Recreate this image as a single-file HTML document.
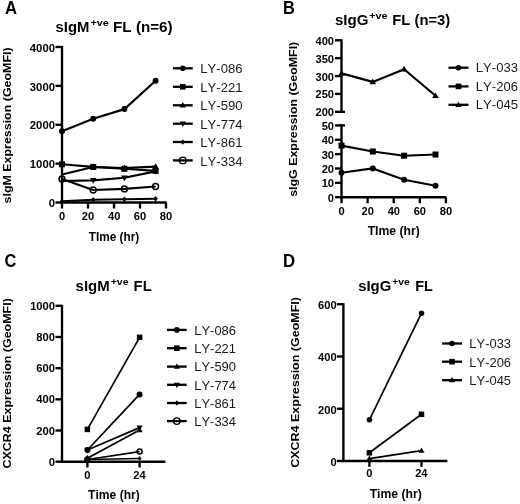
<!DOCTYPE html>
<html><head><meta charset="utf-8"><style>
html,body{margin:0;padding:0;background:#fff;}
svg{display:block;font-family:"Liberation Sans", sans-serif;font-kerning:none;filter:grayscale(1);}
</style></head><body>
<svg width="520" height="504" viewBox="0 0 520 504">
<rect width="520" height="504" fill="#fff"/>
<text transform="translate(5.08,13.50) scale(0.9539,1)" font-size="17.5" font-weight="bold" fill="#000">A</text>
<text transform="translate(55.58,32.10) scale(1.0031,1)" font-size="14.8" font-weight="bold" fill="#000">sIgM</text>
<text transform="translate(90.45,26.20) scale(1.1674,1)" font-size="9.2" font-weight="bold" fill="#000">+ve</text>
<text transform="translate(113.08,32.10) scale(1.0278,1)" font-size="14.8" font-weight="bold" fill="#000">FL (n=6)</text>
<line x1="62.00" y1="45.98" x2="62.00" y2="203.50" stroke="#000" stroke-width="2.35"/>
<line x1="61.00" y1="202.50" x2="166.50" y2="202.50" stroke="#000" stroke-width="2.35"/>
<line x1="55.50" y1="202.50" x2="62.00" y2="202.50" stroke="#000" stroke-width="2.35"/>
<text transform="translate(48.68,207.20) scale(1.0000,1)" font-size="11.3" font-weight="bold" fill="#000">0</text>
<line x1="55.50" y1="163.62" x2="62.00" y2="163.62" stroke="#000" stroke-width="2.35"/>
<text transform="translate(29.83,168.32) scale(1.0000,1)" font-size="11.3" font-weight="bold" fill="#000">1000</text>
<line x1="55.50" y1="124.74" x2="62.00" y2="124.74" stroke="#000" stroke-width="2.35"/>
<text transform="translate(29.83,129.44) scale(1.0000,1)" font-size="11.3" font-weight="bold" fill="#000">2000</text>
<line x1="55.50" y1="85.86" x2="62.00" y2="85.86" stroke="#000" stroke-width="2.35"/>
<text transform="translate(29.83,90.56) scale(1.0000,1)" font-size="11.3" font-weight="bold" fill="#000">3000</text>
<line x1="55.50" y1="46.98" x2="62.00" y2="46.98" stroke="#000" stroke-width="2.35"/>
<text transform="translate(29.83,51.68) scale(1.0000,1)" font-size="11.3" font-weight="bold" fill="#000">4000</text>
<line x1="62.00" y1="202.50" x2="62.00" y2="208.50" stroke="#000" stroke-width="2.35"/>
<text transform="translate(58.91,219.60) scale(1.0300,1)" font-size="10.8" font-weight="bold" fill="#000">0</text>
<line x1="88.00" y1="202.50" x2="88.00" y2="208.50" stroke="#000" stroke-width="2.35"/>
<text transform="translate(81.85,219.60) scale(1.0300,1)" font-size="10.8" font-weight="bold" fill="#000">20</text>
<line x1="114.00" y1="202.50" x2="114.00" y2="208.50" stroke="#000" stroke-width="2.35"/>
<text transform="translate(107.96,219.60) scale(1.0300,1)" font-size="10.8" font-weight="bold" fill="#000">40</text>
<line x1="140.00" y1="202.50" x2="140.00" y2="208.50" stroke="#000" stroke-width="2.35"/>
<text transform="translate(133.84,219.60) scale(1.0300,1)" font-size="10.8" font-weight="bold" fill="#000">60</text>
<line x1="166.00" y1="202.50" x2="166.00" y2="208.50" stroke="#000" stroke-width="2.35"/>
<text transform="translate(159.86,219.60) scale(1.0300,1)" font-size="10.8" font-weight="bold" fill="#000">80</text>
<text transform="translate(88.67,240.60) scale(0.9861,1)" font-size="12" font-weight="bold" fill="#000">TIme (hr)</text>
<text transform="translate(11.00,203.44) rotate(-90) scale(1.0720,1)" font-size="11.6" font-weight="bold">sIgM Expression (GeoMFI)</text>
<polyline fill="none" stroke="#000" stroke-width="2.15" stroke-linejoin="round" points="62.00,131.30 93.20,118.70 124.40,109.10 155.60,80.70"/>
<circle cx="62.00" cy="131.30" r="3.0" fill="#000"/>
<circle cx="93.20" cy="118.70" r="3.0" fill="#000"/>
<circle cx="124.40" cy="109.10" r="3.0" fill="#000"/>
<circle cx="155.60" cy="80.70" r="3.0" fill="#000"/>
<polyline fill="none" stroke="#000" stroke-width="2.15" stroke-linejoin="round" points="62.00,174.50 93.20,167.00 124.40,168.00 155.60,166.60"/>
<polygon points="93.20,163.58 96.50,169.28 89.90,169.28" fill="#000"/>
<polygon points="124.40,164.58 127.70,170.28 121.10,170.28" fill="#000"/>
<polygon points="155.60,163.18 158.90,168.88 152.30,168.88" fill="#000"/>
<polyline fill="none" stroke="#000" stroke-width="2.15" stroke-linejoin="round" points="62.00,164.25 93.20,166.90 124.40,168.80 155.60,170.90"/>
<rect x="59.00" y="161.25" width="6" height="6" fill="#000"/>
<rect x="90.20" y="163.90" width="6" height="6" fill="#000"/>
<rect x="121.40" y="165.80" width="6" height="6" fill="#000"/>
<rect x="152.60" y="167.90" width="6" height="6" fill="#000"/>
<polyline fill="none" stroke="#000" stroke-width="2.15" stroke-linejoin="round" points="62.00,181.00 93.20,180.40 124.40,177.75 155.60,171.40"/>
<polygon points="93.20,183.82 96.50,178.12 89.90,178.12" fill="#000"/>
<polygon points="124.40,181.17 127.70,175.47 121.10,175.47" fill="#000"/>
<polygon points="155.60,174.82 158.90,169.12 152.30,169.12" fill="#000"/>
<polyline fill="none" stroke="#000" stroke-width="2.15" stroke-linejoin="round" points="62.00,201.30 93.20,199.80 124.40,199.30 155.60,198.80"/>
<polygon points="62.00,198.40 64.17,201.30 62.00,204.20 59.83,201.30" fill="#000"/>
<polygon points="93.20,196.90 95.38,199.80 93.20,202.70 91.03,199.80" fill="#000"/>
<polygon points="124.40,196.40 126.58,199.30 124.40,202.20 122.23,199.30" fill="#000"/>
<polygon points="155.60,195.90 157.78,198.80 155.60,201.70 153.42,198.80" fill="#000"/>
<polyline fill="none" stroke="#000" stroke-width="2.15" stroke-linejoin="round" points="62.00,179.00 93.20,190.00 124.40,188.90 155.60,186.50"/>
<circle cx="62.00" cy="179.00" r="2.95" fill="none" stroke="#000" stroke-width="1.5"/>
<circle cx="93.20" cy="190.00" r="2.95" fill="none" stroke="#000" stroke-width="1.5"/>
<circle cx="124.40" cy="188.90" r="2.95" fill="none" stroke="#000" stroke-width="1.5"/>
<circle cx="155.60" cy="186.50" r="2.95" fill="none" stroke="#000" stroke-width="1.5"/>
<line x1="172.90" y1="68.30" x2="192.70" y2="68.30" stroke="#000" stroke-width="2.3"/>
<circle cx="182.80" cy="68.30" r="2.8" fill="#000"/>
<line x1="172.90" y1="86.80" x2="192.70" y2="86.80" stroke="#000" stroke-width="2.3"/>
<rect x="180.00" y="84.00" width="5.6" height="5.6" fill="#000"/>
<line x1="172.90" y1="105.30" x2="192.70" y2="105.30" stroke="#000" stroke-width="2.3"/>
<polygon points="182.80,102.11 185.90,107.43 179.70,107.43" fill="#000"/>
<line x1="172.90" y1="123.70" x2="192.70" y2="123.70" stroke="#000" stroke-width="2.3"/>
<polygon points="182.80,126.89 185.90,121.57 179.70,121.57" fill="#000"/>
<line x1="172.90" y1="142.00" x2="192.70" y2="142.00" stroke="#000" stroke-width="2.3"/>
<polygon points="182.80,139.20 184.90,142.00 182.80,144.80 180.70,142.00" fill="#000"/>
<line x1="172.90" y1="160.40" x2="192.70" y2="160.40" stroke="#000" stroke-width="2.3"/>
<circle cx="182.80" cy="160.40" r="3.25" fill="none" stroke="#000" stroke-width="1.4"/>
<text transform="translate(200.22,73.40) scale(1.0946,1)" font-size="12" font-weight="normal" fill="#1a1a1a">LY-086</text>
<text transform="translate(200.22,91.90) scale(1.0946,1)" font-size="12" font-weight="normal" fill="#1a1a1a">LY-221</text>
<text transform="translate(200.22,110.40) scale(1.0946,1)" font-size="12" font-weight="normal" fill="#1a1a1a">LY-590</text>
<text transform="translate(200.22,128.80) scale(1.0946,1)" font-size="12" font-weight="normal" fill="#1a1a1a">LY-774</text>
<text transform="translate(200.22,147.10) scale(1.0946,1)" font-size="12" font-weight="normal" fill="#1a1a1a">LY-861</text>
<text transform="translate(200.22,165.50) scale(1.0946,1)" font-size="12" font-weight="normal" fill="#1a1a1a">LY-334</text>
<text transform="translate(283.00,13.50) scale(0.9370,1)" font-size="17.5" font-weight="bold" fill="#000">B</text>
<text transform="translate(334.97,25.20) scale(1.0204,1)" font-size="14.8" font-weight="bold" fill="#000">sIgG</text>
<text transform="translate(369.24,19.30) scale(1.1808,1)" font-size="9.2" font-weight="bold" fill="#000">+ve</text>
<text transform="translate(392.21,25.20) scale(1.0029,1)" font-size="14.8" font-weight="bold" fill="#000">FL (n=3)</text>
<line x1="341.50" y1="39.30" x2="341.50" y2="112.80" stroke="#000" stroke-width="2.35"/>
<line x1="340.50" y1="111.80" x2="345.00" y2="111.80" stroke="#000" stroke-width="2.35"/>
<line x1="341.50" y1="124.40" x2="341.50" y2="198.20" stroke="#000" stroke-width="2.35"/>
<line x1="340.50" y1="125.40" x2="345.00" y2="125.40" stroke="#000" stroke-width="2.35"/>
<line x1="340.50" y1="197.20" x2="446.40" y2="197.20" stroke="#000" stroke-width="2.35"/>
<line x1="335.00" y1="111.80" x2="341.50" y2="111.80" stroke="#000" stroke-width="2.35"/>
<text transform="translate(315.50,116.30) scale(1.0300,1)" font-size="10.8" font-weight="bold" fill="#000">200</text>
<line x1="335.00" y1="93.92" x2="341.50" y2="93.92" stroke="#000" stroke-width="2.35"/>
<text transform="translate(315.50,98.42) scale(1.0300,1)" font-size="10.8" font-weight="bold" fill="#000">250</text>
<line x1="335.00" y1="76.05" x2="341.50" y2="76.05" stroke="#000" stroke-width="2.35"/>
<text transform="translate(315.50,80.55) scale(1.0300,1)" font-size="10.8" font-weight="bold" fill="#000">300</text>
<line x1="335.00" y1="58.17" x2="341.50" y2="58.17" stroke="#000" stroke-width="2.35"/>
<text transform="translate(315.50,62.67) scale(1.0300,1)" font-size="10.8" font-weight="bold" fill="#000">350</text>
<line x1="335.00" y1="40.30" x2="341.50" y2="40.30" stroke="#000" stroke-width="2.35"/>
<text transform="translate(315.50,44.80) scale(1.0300,1)" font-size="10.8" font-weight="bold" fill="#000">400</text>
<line x1="335.00" y1="197.20" x2="341.50" y2="197.20" stroke="#000" stroke-width="2.35"/>
<text transform="translate(327.87,201.70) scale(1.0300,1)" font-size="10.8" font-weight="bold" fill="#000">0</text>
<line x1="335.00" y1="182.84" x2="341.50" y2="182.84" stroke="#000" stroke-width="2.35"/>
<text transform="translate(321.68,187.34) scale(1.0300,1)" font-size="10.8" font-weight="bold" fill="#000">10</text>
<line x1="335.00" y1="168.48" x2="341.50" y2="168.48" stroke="#000" stroke-width="2.35"/>
<text transform="translate(321.68,172.98) scale(1.0300,1)" font-size="10.8" font-weight="bold" fill="#000">20</text>
<line x1="335.00" y1="154.12" x2="341.50" y2="154.12" stroke="#000" stroke-width="2.35"/>
<text transform="translate(321.68,158.62) scale(1.0300,1)" font-size="10.8" font-weight="bold" fill="#000">30</text>
<line x1="335.00" y1="139.76" x2="341.50" y2="139.76" stroke="#000" stroke-width="2.35"/>
<text transform="translate(321.68,144.26) scale(1.0300,1)" font-size="10.8" font-weight="bold" fill="#000">40</text>
<line x1="335.00" y1="125.40" x2="341.50" y2="125.40" stroke="#000" stroke-width="2.35"/>
<text transform="translate(321.68,129.90) scale(1.0300,1)" font-size="10.8" font-weight="bold" fill="#000">50</text>
<line x1="341.50" y1="197.20" x2="341.50" y2="203.20" stroke="#000" stroke-width="2.35"/>
<text transform="translate(338.41,214.50) scale(1.0300,1)" font-size="10.8" font-weight="bold" fill="#000">0</text>
<line x1="367.60" y1="197.20" x2="367.60" y2="203.20" stroke="#000" stroke-width="2.35"/>
<text transform="translate(361.45,214.50) scale(1.0300,1)" font-size="10.8" font-weight="bold" fill="#000">20</text>
<line x1="393.70" y1="197.20" x2="393.70" y2="203.20" stroke="#000" stroke-width="2.35"/>
<text transform="translate(387.66,214.50) scale(1.0300,1)" font-size="10.8" font-weight="bold" fill="#000">40</text>
<line x1="419.80" y1="197.20" x2="419.80" y2="203.20" stroke="#000" stroke-width="2.35"/>
<text transform="translate(413.64,214.50) scale(1.0300,1)" font-size="10.8" font-weight="bold" fill="#000">60</text>
<line x1="445.90" y1="197.20" x2="445.90" y2="203.20" stroke="#000" stroke-width="2.35"/>
<text transform="translate(439.76,214.50) scale(1.0300,1)" font-size="10.8" font-weight="bold" fill="#000">80</text>
<text transform="translate(367.66,234.50) scale(1.0178,1)" font-size="12" font-weight="bold" fill="#000">TIme (hr)</text>
<text transform="translate(296.60,196.84) rotate(-90) scale(1.0706,1)" font-size="11.6" font-weight="bold">sIgG Expression (GeoMFI)</text>
<polyline fill="none" stroke="#000" stroke-width="2.15" stroke-linejoin="round" points="341.50,73.40 372.80,81.90 404.10,69.20 435.50,95.80"/>
<polygon points="341.50,69.98 344.80,75.68 338.20,75.68" fill="#000"/>
<polygon points="372.80,78.48 376.10,84.18 369.50,84.18" fill="#000"/>
<polygon points="404.10,65.78 407.40,71.48 400.80,71.48" fill="#000"/>
<polygon points="435.50,92.38 438.80,98.08 432.20,98.08" fill="#000"/>
<polyline fill="none" stroke="#000" stroke-width="2.15" stroke-linejoin="round" points="341.50,145.60 372.80,151.50 404.10,155.70 435.50,154.50"/>
<rect x="338.50" y="142.60" width="6" height="6" fill="#000"/>
<rect x="369.80" y="148.50" width="6" height="6" fill="#000"/>
<rect x="401.10" y="152.70" width="6" height="6" fill="#000"/>
<rect x="432.50" y="151.50" width="6" height="6" fill="#000"/>
<polyline fill="none" stroke="#000" stroke-width="2.15" stroke-linejoin="round" points="341.50,172.70 372.80,168.40 404.10,179.80 435.50,185.80"/>
<circle cx="341.50" cy="172.70" r="3.0" fill="#000"/>
<circle cx="372.80" cy="168.40" r="3.0" fill="#000"/>
<circle cx="404.10" cy="179.80" r="3.0" fill="#000"/>
<circle cx="435.50" cy="185.80" r="3.0" fill="#000"/>
<line x1="448.50" y1="67.70" x2="468.50" y2="67.70" stroke="#000" stroke-width="2.3"/>
<circle cx="458.50" cy="67.70" r="2.8" fill="#000"/>
<line x1="448.50" y1="86.40" x2="468.50" y2="86.40" stroke="#000" stroke-width="2.3"/>
<rect x="455.70" y="83.60" width="5.6" height="5.6" fill="#000"/>
<line x1="448.50" y1="104.80" x2="468.50" y2="104.80" stroke="#000" stroke-width="2.3"/>
<polygon points="458.50,101.61 461.60,106.93 455.40,106.93" fill="#000"/>
<text transform="translate(475.83,71.90) scale(1.0892,1)" font-size="12" font-weight="normal" fill="#1a1a1a">LY-033</text>
<text transform="translate(475.83,90.60) scale(1.0892,1)" font-size="12" font-weight="normal" fill="#1a1a1a">LY-206</text>
<text transform="translate(475.83,109.00) scale(1.0892,1)" font-size="12" font-weight="normal" fill="#1a1a1a">LY-045</text>
<text transform="translate(4.53,266.60) scale(0.9352,1)" font-size="17.5" font-weight="bold" fill="#000">C</text>
<text transform="translate(75.57,291.20) scale(1.0124,1)" font-size="14.8" font-weight="bold" fill="#000">sIgM</text>
<text transform="translate(110.65,285.30) scale(1.1540,1)" font-size="9.2" font-weight="bold" fill="#000">+ve</text>
<text transform="translate(133.61,291.20) scale(1.0039,1)" font-size="14.8" font-weight="bold" fill="#000">FL</text>
<line x1="62.00" y1="304.80" x2="62.00" y2="462.70" stroke="#000" stroke-width="2.35"/>
<line x1="61.00" y1="461.70" x2="165.40" y2="461.70" stroke="#000" stroke-width="2.35"/>
<line x1="55.50" y1="461.70" x2="62.00" y2="461.70" stroke="#000" stroke-width="2.35"/>
<text transform="translate(48.83,465.70) scale(1.0000,1)" font-size="11.2" font-weight="bold" fill="#000">0</text>
<line x1="55.50" y1="430.52" x2="62.00" y2="430.52" stroke="#000" stroke-width="2.35"/>
<text transform="translate(36.37,434.52) scale(1.0000,1)" font-size="11.2" font-weight="bold" fill="#000">200</text>
<line x1="55.50" y1="399.34" x2="62.00" y2="399.34" stroke="#000" stroke-width="2.35"/>
<text transform="translate(36.37,403.34) scale(1.0000,1)" font-size="11.2" font-weight="bold" fill="#000">400</text>
<line x1="55.50" y1="368.16" x2="62.00" y2="368.16" stroke="#000" stroke-width="2.35"/>
<text transform="translate(36.37,372.16) scale(1.0000,1)" font-size="11.2" font-weight="bold" fill="#000">600</text>
<line x1="55.50" y1="336.98" x2="62.00" y2="336.98" stroke="#000" stroke-width="2.35"/>
<text transform="translate(36.37,340.98) scale(1.0000,1)" font-size="11.2" font-weight="bold" fill="#000">800</text>
<line x1="55.50" y1="305.80" x2="62.00" y2="305.80" stroke="#000" stroke-width="2.35"/>
<text transform="translate(30.14,309.80) scale(1.0000,1)" font-size="11.2" font-weight="bold" fill="#000">1000</text>
<line x1="87.40" y1="461.70" x2="87.40" y2="467.50" stroke="#000" stroke-width="2.35"/>
<text transform="translate(84.31,478.70) scale(1.0300,1)" font-size="10.8" font-weight="bold" fill="#000">0</text>
<line x1="139.60" y1="461.70" x2="139.60" y2="467.50" stroke="#000" stroke-width="2.35"/>
<text transform="translate(133.25,478.70) scale(1.0300,1)" font-size="10.8" font-weight="bold" fill="#000">24</text>
<text transform="translate(88.06,498.50) scale(1.0099,1)" font-size="12" font-weight="bold" fill="#000">Time (hr)</text>
<text transform="translate(11.20,468.51) rotate(-90) scale(1.0755,1)" font-size="11.6" font-weight="bold">CXCR4 Expression (GeoMFI)</text>
<polyline fill="none" stroke="#000" stroke-width="1.7" stroke-linejoin="round" points="87.40,459.50 139.60,458.50"/>
<polygon points="87.40,457.00 89.28,459.50 87.40,462.00 85.53,459.50" fill="#000"/>
<polygon points="139.60,456.00 141.47,458.50 139.60,461.00 137.72,458.50" fill="#000"/>
<polyline fill="none" stroke="#000" stroke-width="1.7" stroke-linejoin="round" points="87.40,459.50 139.60,451.60"/>
<circle cx="87.40" cy="459.50" r="2.50" fill="none" stroke="#000" stroke-width="1.5"/>
<circle cx="139.60" cy="451.60" r="2.50" fill="none" stroke="#000" stroke-width="1.5"/>
<polyline fill="none" stroke="#000" stroke-width="1.7" stroke-linejoin="round" points="87.40,458.30 139.60,430.00"/>
<polygon points="87.40,455.11 90.50,460.43 84.30,460.43" fill="#000"/>
<polygon points="139.60,426.81 142.70,432.13 136.50,432.13" fill="#000"/>
<polyline fill="none" stroke="#000" stroke-width="1.7" stroke-linejoin="round" points="87.40,450.00 139.60,427.60"/>
<polygon points="87.40,453.19 90.50,447.87 84.30,447.87" fill="#000"/>
<polygon points="139.60,430.79 142.70,425.47 136.50,425.47" fill="#000"/>
<polyline fill="none" stroke="#000" stroke-width="1.7" stroke-linejoin="round" points="87.40,450.00 139.60,394.40"/>
<circle cx="87.40" cy="450.00" r="3.0" fill="#000"/>
<circle cx="139.60" cy="394.40" r="3.0" fill="#000"/>
<polyline fill="none" stroke="#000" stroke-width="1.7" stroke-linejoin="round" points="87.40,429.40 139.60,337.30"/>
<rect x="84.65" y="426.65" width="5.5" height="5.5" fill="#000"/>
<rect x="136.85" y="334.55" width="5.5" height="5.5" fill="#000"/>
<line x1="167.00" y1="329.90" x2="186.70" y2="329.90" stroke="#000" stroke-width="2.3"/>
<circle cx="176.85" cy="329.90" r="2.8" fill="#000"/>
<line x1="167.00" y1="348.20" x2="186.70" y2="348.20" stroke="#000" stroke-width="2.3"/>
<rect x="174.05" y="345.40" width="5.6" height="5.6" fill="#000"/>
<line x1="167.00" y1="366.60" x2="186.70" y2="366.60" stroke="#000" stroke-width="2.3"/>
<polygon points="176.85,363.41 179.95,368.73 173.75,368.73" fill="#000"/>
<line x1="167.00" y1="384.80" x2="186.70" y2="384.80" stroke="#000" stroke-width="2.3"/>
<polygon points="176.85,387.99 179.95,382.67 173.75,382.67" fill="#000"/>
<line x1="167.00" y1="403.00" x2="186.70" y2="403.00" stroke="#000" stroke-width="2.3"/>
<polygon points="176.85,400.20 178.95,403.00 176.85,405.80 174.75,403.00" fill="#000"/>
<line x1="167.00" y1="421.10" x2="186.70" y2="421.10" stroke="#000" stroke-width="2.3"/>
<circle cx="176.85" cy="421.10" r="3.25" fill="none" stroke="#000" stroke-width="1.4"/>
<text transform="translate(194.24,334.60) scale(1.0296,1)" font-size="12.6" font-weight="normal" fill="#1a1a1a">LY-086</text>
<text transform="translate(194.24,352.90) scale(1.0296,1)" font-size="12.6" font-weight="normal" fill="#1a1a1a">LY-221</text>
<text transform="translate(194.24,371.30) scale(1.0296,1)" font-size="12.6" font-weight="normal" fill="#1a1a1a">LY-590</text>
<text transform="translate(194.24,389.50) scale(1.0296,1)" font-size="12.6" font-weight="normal" fill="#1a1a1a">LY-774</text>
<text transform="translate(194.24,407.70) scale(1.0296,1)" font-size="12.6" font-weight="normal" fill="#1a1a1a">LY-861</text>
<text transform="translate(194.24,425.80) scale(1.0296,1)" font-size="12.6" font-weight="normal" fill="#1a1a1a">LY-334</text>
<text transform="translate(282.98,266.70) scale(0.9597,1)" font-size="17.5" font-weight="bold" fill="#000">D</text>
<text transform="translate(358.18,291.30) scale(1.0077,1)" font-size="14.8" font-weight="bold" fill="#000">sIgG</text>
<text transform="translate(392.17,285.40) scale(1.1204,1)" font-size="9.2" font-weight="bold" fill="#000">+ve</text>
<text transform="translate(415.24,291.30) scale(0.9738,1)" font-size="14.8" font-weight="bold" fill="#000">FL</text>
<line x1="343.40" y1="303.22" x2="343.40" y2="462.00" stroke="#000" stroke-width="2.35"/>
<line x1="342.40" y1="461.00" x2="447.40" y2="461.00" stroke="#000" stroke-width="2.35"/>
<line x1="336.90" y1="461.00" x2="343.40" y2="461.00" stroke="#000" stroke-width="2.35"/>
<text transform="translate(330.47,466.00) scale(1.0300,1)" font-size="10.8" font-weight="bold" fill="#000">0</text>
<line x1="336.90" y1="408.74" x2="343.40" y2="408.74" stroke="#000" stroke-width="2.35"/>
<text transform="translate(318.10,413.74) scale(1.0300,1)" font-size="10.8" font-weight="bold" fill="#000">200</text>
<line x1="336.90" y1="356.48" x2="343.40" y2="356.48" stroke="#000" stroke-width="2.35"/>
<text transform="translate(318.10,361.48) scale(1.0300,1)" font-size="10.8" font-weight="bold" fill="#000">400</text>
<line x1="336.90" y1="304.22" x2="343.40" y2="304.22" stroke="#000" stroke-width="2.35"/>
<text transform="translate(318.10,309.22) scale(1.0300,1)" font-size="10.8" font-weight="bold" fill="#000">600</text>
<line x1="369.40" y1="461.00" x2="369.40" y2="466.80" stroke="#000" stroke-width="2.35"/>
<text transform="translate(366.31,477.40) scale(1.0300,1)" font-size="10.8" font-weight="bold" fill="#000">0</text>
<line x1="421.50" y1="461.00" x2="421.50" y2="466.80" stroke="#000" stroke-width="2.35"/>
<text transform="translate(415.15,477.40) scale(1.0300,1)" font-size="10.8" font-weight="bold" fill="#000">24</text>
<text transform="translate(369.66,498.20) scale(1.0178,1)" font-size="12" font-weight="bold" fill="#000">Time (hr)</text>
<text transform="translate(298.70,467.81) rotate(-90) scale(1.0787,1)" font-size="11.6" font-weight="bold">CXCR4 Expression (GeoMFI)</text>
<polyline fill="none" stroke="#000" stroke-width="1.7" stroke-linejoin="round" points="369.40,458.60 421.50,450.70"/>
<polygon points="369.40,455.47 372.45,460.69 366.35,460.69" fill="#000"/>
<polygon points="421.50,447.56 424.55,452.79 418.45,452.79" fill="#000"/>
<polyline fill="none" stroke="#000" stroke-width="1.7" stroke-linejoin="round" points="369.40,452.80 421.50,414.30"/>
<rect x="366.65" y="450.05" width="5.5" height="5.5" fill="#000"/>
<rect x="418.75" y="411.55" width="5.5" height="5.5" fill="#000"/>
<polyline fill="none" stroke="#000" stroke-width="1.7" stroke-linejoin="round" points="369.40,419.80 421.50,313.20"/>
<circle cx="369.40" cy="419.80" r="2.75" fill="#000"/>
<circle cx="421.50" cy="313.20" r="2.75" fill="#000"/>
<line x1="442.10" y1="343.50" x2="462.00" y2="343.50" stroke="#000" stroke-width="2.3"/>
<circle cx="452.05" cy="343.50" r="2.8" fill="#000"/>
<line x1="442.10" y1="361.70" x2="462.00" y2="361.70" stroke="#000" stroke-width="2.3"/>
<rect x="449.25" y="358.90" width="5.6" height="5.6" fill="#000"/>
<line x1="442.10" y1="380.20" x2="462.00" y2="380.20" stroke="#000" stroke-width="2.3"/>
<polygon points="452.05,377.01 455.15,382.33 448.95,382.33" fill="#000"/>
<text transform="translate(469.34,348.30) scale(1.0784,1)" font-size="12" font-weight="normal" fill="#1a1a1a">LY-033</text>
<text transform="translate(469.34,366.50) scale(1.0784,1)" font-size="12" font-weight="normal" fill="#1a1a1a">LY-206</text>
<text transform="translate(469.34,385.00) scale(1.0784,1)" font-size="12" font-weight="normal" fill="#1a1a1a">LY-045</text>
</svg></body></html>
